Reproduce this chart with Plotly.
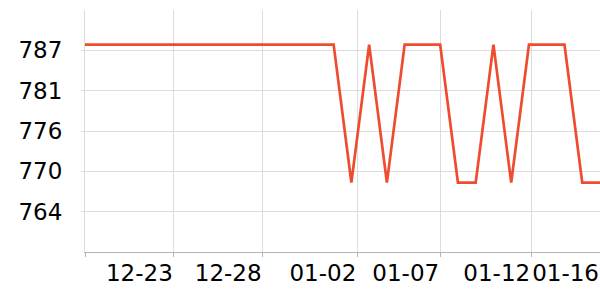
import plotly.graph_objects as go
import pandas as pd
import numpy as np

dates = pd.date_range("2023-12-18", "2024-01-16", freq="D")
values = [787.8] * 15 + [768.3, 787.8, 768.3, 787.8, 787.8, 787.8, 768.3, 768.3,
                         787.8, 768.3, 787.8, 787.8, 787.8, 768.3, 768.3]
x_tick_dates = ["2023-12-18", "2023-12-23", "2023-12-28", "2024-01-02 08:00",
                "2024-01-07", "2024-01-12 03:00", "2024-01-16"]
x_tick_text = ["", "12-23", "12-28", "01-02", "01-07", "01-12", "01-16"]
y_tick_text = ["764", "770", "776", "781", "787"]
y_min, y_max = 758.5, 792.7

y_step = (y_max - y_min) / 6
y_tick_vals = [y_min + y_step * (k + 1) for k in range(5)]

fig = go.Figure()
fig.add_trace(go.Scatter(x=dates, y=values, mode="lines",
                         line=dict(color="#ef4c2f", width=2.7), hoverinfo="skip"))

font = dict(family="DejaVu Sans", size=23, color="#000")
fig.update_layout(
    width=600, height=300,
    margin=dict(l=85, r=0, t=10, b=48),
    paper_bgcolor="white", plot_bgcolor="white",
    showlegend=False,
    font=font,
)
fig.update_xaxes(
    type="date", range=[dates[0], dates[-1]],
    tickvals=x_tick_dates, ticktext=x_tick_text,
    ticklabelposition="outside left", tickangle=0,
    showgrid=True, gridcolor="#dcdcdc", gridwidth=1,
    showline=True, linecolor="#b4b4b4", linewidth=1,
    ticks="outside", ticklen=4, tickcolor="#b4b4b4",
    zeroline=False, tickfont=font,
)
fig.update_yaxes(
    range=[y_min, y_max],
    tickvals=y_tick_vals, ticktext=y_tick_text,
    showgrid=True, gridcolor="#dcdcdc", gridwidth=1,
    showline=True, linecolor="#dcdcdc", linewidth=1,
    ticks="outside", ticklen=3, tickcolor="#dcdcdc",
    zeroline=False, tickfont=font, ticklabelstandoff=14,
)
fig.write_html("out.html")
